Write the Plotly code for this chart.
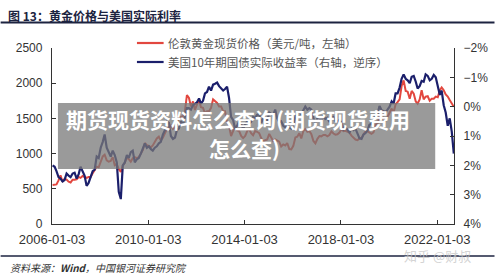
import pandas as pd
import plotly.graph_objects as go

# ---- data (monthly, read/estimated from the chart) ----
gold = [
    555, 560, 562, 620, 690, 600, 640, 630, 600, 590, 630, 630,
    635, 668, 655, 682, 668, 655, 668, 668, 720, 765, 815, 805,
    900, 960, 985, 905, 885, 895, 950, 835, 850, 780, 740, 830,
    870, 950, 920, 885, 935, 950, 935, 950, 1000, 1050, 1150, 1120,
    1110, 1090, 1115, 1160, 1215, 1240, 1185, 1225, 1290, 1350, 1380, 1400,
    1350, 1375, 1430, 1500, 1520, 1530, 1600, 1830, 1790, 1670, 1740, 1620,
    1700, 1760, 1660, 1650, 1570, 1600, 1600, 1650, 1770, 1750, 1720, 1670,
    1670, 1600, 1600, 1450, 1390, 1250, 1310, 1390, 1330, 1320, 1250, 1220,
    1250, 1320, 1350, 1290, 1260, 1320, 1310, 1290, 1220, 1170, 1190, 1200,
    1280, 1220, 1180, 1200, 1190, 1170, 1100, 1130, 1115, 1150, 1065, 1060,
    1110, 1230, 1240, 1290, 1215, 1320, 1350, 1310, 1320, 1275, 1180, 1145,
    1210, 1250, 1245, 1265, 1265, 1245, 1265, 1315, 1285, 1270, 1275, 1300,
    1345, 1320, 1325, 1315, 1300, 1255, 1225, 1200, 1190, 1215, 1225, 1280,
    1320, 1315, 1295, 1280, 1300, 1410, 1425, 1525, 1490, 1510, 1465, 1515,
    1580, 1640, 1580, 1700, 1730, 1770, 1960, 2040, 1890, 1880, 1780, 1890,
    1850, 1740, 1710, 1770, 1900, 1770, 1810, 1815, 1750, 1780, 1780, 1810,
    1800, 1900, 1940, 1900, 1840, 1810, 1760, 1720, 1665,
]

real_yield = [
    2.00, 2.05, 2.20, 2.40, 2.45, 2.55, 2.50, 2.28, 2.35, 2.40, 2.28, 2.25,
    2.45, 2.30, 2.05, 2.22, 2.35, 2.70, 2.60, 2.40, 2.20, 2.15, 1.70, 1.75,
    1.40, 1.20, 0.95, 1.40, 1.55, 1.70, 1.50, 1.65, 1.90, 2.90, 3.15, 2.00,
    1.90, 1.65, 1.75, 1.55, 1.50, 1.90, 1.80, 1.75, 1.60, 1.45, 1.25, 1.40,
    1.35, 1.45, 1.50, 1.40, 1.35, 1.25, 1.20, 0.95, 0.80, 0.50, 0.55, 1.00,
    1.10, 1.05, 0.80, 0.75, 0.50, 0.65, 0.40, 0.05, 0.05, 0.10, -0.05, -0.10,
    -0.15, -0.28, -0.10, -0.20, -0.45, -0.50, -0.68, -0.55, -0.75, -0.78, -0.82, -0.70,
    -0.62, -0.55, -0.60, -0.68, -0.30, 0.35, 0.45, 0.75, 0.65, 0.50, 0.60, 0.75,
    0.60, 0.50, 0.58, 0.52, 0.35, 0.38, 0.28, 0.25, 0.55, 0.40, 0.45, 0.48,
    0.20, 0.25, 0.30, 0.10, 0.40, 0.52, 0.50, 0.65, 0.70, 0.55, 0.70, 0.75,
    0.60, 0.35, 0.22, 0.20, 0.25, 0.12, 0.00, 0.10, 0.05, 0.10, 0.40, 0.55,
    0.40, 0.40, 0.48, 0.30, 0.42, 0.38, 0.52, 0.35, 0.35, 0.50, 0.52, 0.45,
    0.55, 0.78, 0.72, 0.78, 0.88, 0.75, 0.80, 0.75, 0.90, 1.08, 1.10, 0.95,
    0.90, 0.80, 0.62, 0.58, 0.48, 0.28, 0.25, -0.02, 0.12, 0.15, 0.18, 0.10,
    0.00, -0.18, -0.10, -0.45, -0.45, -0.65, -0.95, -1.10, -0.95, -0.90, -0.80, -1.02,
    -1.05, -0.85, -0.62, -0.70, -0.88, -0.85, -1.10, -1.05, -0.90, -0.95, -1.08, -1.00,
    -0.70, -0.40, -0.55, -0.05, 0.20, 0.65, 0.40, 0.85, 1.60,
]

dates = list(pd.date_range("2006-01-01", periods=len(gold), freq="MS") + pd.Timedelta(days=11))

x_tickvals = ["2006-01-03", "2010-01-03", "2014-01-03", "2018-01-03", "2022-01-03"]
x_ticktext = ["2006-01-03", "2010-01-03", "2014-01-03", "2018-01-03", "2022-01-03"]
left_ticks = [0, 500, 1000, 1500, 2000, 2500]
right_ticks = [-2, -1, 0, 1, 2, 3, 4]
right_ticktext = ["−2%", "−1%", "0%", "1%", "2%", "3%", "4%"]

gold_name = "伦敦黄金现货价格（美元/吨，左轴）"
yield_name = "美国10年期国债实际收益率（右轴，逆序）"
title_text = "图 13：黄金价格与美国实际利率"
source_text = "资料来源：<b>Wind</b>，中国银河证券研究院"
overlay_line1 = "期货现货资料怎么查询(期货现货费用"
overlay_line2 = "怎么查)"

CJK = "Noto Sans CJK SC"
TICKFONT = dict(family="Liberation Sans, Arial", size=12, color="#333333")
RED = "#e2473f"
NAVY = "#1b1f6b"

PW, PH, L, T = 407, 176, 52, 48


def px(xp):
    return (xp - L) / PW


def py(yp):
    return (T + PH - yp) / PH


fig = go.Figure()
fig.add_trace(go.Scatter(x=dates, y=gold, name=gold_name, mode="lines",
                         line=dict(color=RED, width=2), yaxis="y"))
fig.add_trace(go.Scatter(x=dates, y=real_yield, name=yield_name, mode="lines",
                         line=dict(color=NAVY, width=2.2), yaxis="y2"))

fig.update_layout(
    width=500, height=274,
    margin=dict(l=52, r=41, t=48, b=50),
    paper_bgcolor="white", plot_bgcolor="white",
    showlegend=False,
    xaxis=dict(type="date", range=["2006-01-03", "2022-09-15"],
               tickvals=x_tickvals, ticktext=x_ticktext,
               showline=True, linecolor="#333333", linewidth=1.3,
               ticks="inside", ticklen=4, tickcolor="#333333",
               showgrid=False, zeroline=False, ticklabelstandoff=3,
               tickfont=dict(family="Liberation Sans, Arial", size=13, color="#333333")),
    yaxis=dict(range=[0, 2500], tickvals=left_ticks,
               showline=True, linecolor="#333333", linewidth=1.3,
               ticks="inside", ticklen=4, tickcolor="#333333",
               showgrid=False, zeroline=False, tickfont=TICKFONT,
               ticklabelstandoff=6),
    yaxis2=dict(range=[4, -2], tickvals=right_ticks, ticktext=right_ticktext,
                overlaying="y", side="right",
                showline=True, linecolor="#333333", linewidth=1.3,
                ticks="inside", ticklen=4, tickcolor="#333333",
                showgrid=False, zeroline=False, tickfont=TICKFONT,
                ticklabelstandoff=6),
)

# legend (drawn by hand)
for name, color, ypix in [(gold_name, RED, 43), (yield_name, NAVY, 62)]:
    fig.add_shape(type="line", xref="paper", yref="paper",
                  x0=px(138), x1=px(165), y0=py(ypix), y1=py(ypix),
                  line=dict(color=color, width=2.2))
    fig.add_annotation(text=name, xref="paper", yref="paper",
                       x=px(167), y=py(ypix), xanchor="left", yanchor="middle",
                       showarrow=False, font=dict(family=CJK, size=11.5, color="#555555"))

# title and rules
fig.add_annotation(text="<b>" + title_text + "</b>", xref="paper", yref="paper",
                   x=px(5), y=py(15), xanchor="left", yanchor="middle",
                   showarrow=False, font=dict(family=CJK, size=12, color="#1c2340"))
fig.add_shape(type="line", xref="paper", yref="paper", x0=px(0), x1=px(500),
              y0=py(22.5), y1=py(22.5), line=dict(color="#1c2340", width=2))
fig.add_shape(type="line", xref="paper", yref="paper", x0=px(0), x1=px(500),
              y0=py(256), y1=py(256), line=dict(color="#1c2340", width=1.5))
fig.add_annotation(text="<i>" + source_text + "</i>", xref="paper", yref="paper",
                   x=px(7), y=py(267), xanchor="left", yanchor="middle",
                   showarrow=False, font=dict(family=CJK, size=10, color="#333333"))
fig.add_annotation(text="知乎 @财叔", xref="paper", yref="paper",
                   x=px(478), y=py(255), xanchor="right", yanchor="middle",
                   showarrow=False, font=dict(family=CJK, size=13, color="rgba(200,200,200,0.8)"))

# grey overlay with caption
fig.add_shape(type="rect", xref="paper", yref="paper", layer="above",
              x0=px(58), x1=px(440), y0=py(169), y1=py(103),
              fillcolor="rgba(120,120,120,0.75)", line=dict(width=0))
fig.add_annotation(text="<b>" + overlay_line1 + "</b>", xref="paper", yref="paper",
                   x=px(240), y=py(119), xanchor="center", yanchor="middle",
                   showarrow=False, font=dict(family=CJK, size=21, color="white"))
fig.add_annotation(text="<b>" + overlay_line2 + "</b>", xref="paper", yref="paper",
                   x=px(247), y=py(148), xanchor="center", yanchor="middle",
                   showarrow=False, font=dict(family=CJK, size=21, color="white"))

fig.write_html("out.html")
